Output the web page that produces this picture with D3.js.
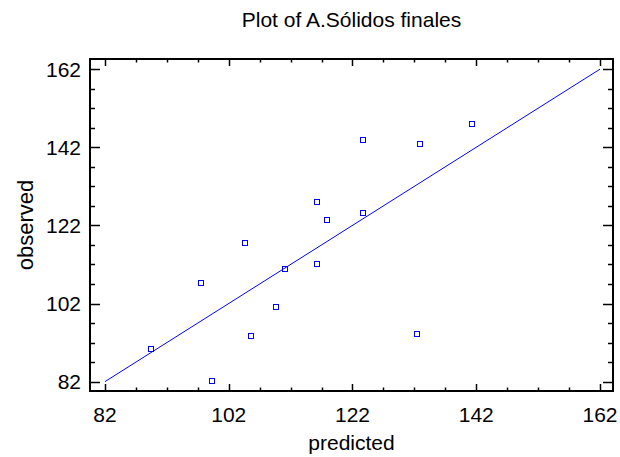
<!DOCTYPE html>
<html>
<head>
<meta charset="utf-8">
<script src="https://cdn.jsdelivr.net/npm/d3@7"></script>
<style>
  body { margin: 0; background: #fff; }
  text { font-family: "Liberation Sans", Arial, sans-serif; fill: #000; }
</style>
</head>
<body>
<div id="chart"></div>
<script>
const predicted = [89.5, 97.5, 99.3, 104.7, 105.6, 109.6, 111.1, 116.2, 116.3, 117.9, 123.7, 123.7, 132.4, 132.9, 141.3];
const observed  = [90.3, 107.3, 82.1, 117.6, 93.6, 101.2, 110.9, 127.9, 112.0, 123.4, 143.8, 125.2, 94.3, 142.9, 148.0];
const tickValues = [82, 102, 122, 142, 162];
const fitLine = [82, 162];
const titulo = "Plot of A.Sólidos finales";
const rotuloX = "predicted";
const rotuloY = "observed";

const largura = 620, altura = 457;
const caixa = { left: 90, right: 613, top: 59, bottom: 391 };

const svg = d3.select("#chart").append("svg")
  .attr("width", largura)
  .attr("height", altura);

const x = d3.scaleLinear().domain([79.58, 164.1]).range([caixa.left, caixa.right]);
const y = d3.scaleLinear().domain([79.6, 164.6]).range([caixa.bottom, caixa.top]);

const minor = d3.range(82, 163, 5).filter(v => !tickValues.includes(v));

// ticks (inward on all four sides)
function ticks(lado) {
  const g = svg.append("g").attr("stroke", "#000").attr("stroke-width", 1.5);
  const horiz = lado === "top" || lado === "bottom";
  const escala = horiz ? x : y;
  const todos = tickValues.map(v => ({ v, major: true })).concat(minor.map(v => ({ v, major: false })));
  g.selectAll("line").data(todos).enter().append("line")
    .each(function (d) {
      const len = horiz ? (d.major ? 7 : 3.5) : (d.major ? 10 : 5);
      const p = Math.round(escala(d.v)) + 0.5;
      const s = d3.select(this);
      if (lado === "bottom") s.attr("x1", p).attr("x2", p).attr("y1", caixa.bottom).attr("y2", caixa.bottom - len);
      if (lado === "top") s.attr("x1", p).attr("x2", p).attr("y1", caixa.top).attr("y2", caixa.top + len);
      if (lado === "left") s.attr("y1", p).attr("y2", p).attr("x1", caixa.left).attr("x2", caixa.left + len);
      if (lado === "right") s.attr("y1", p).attr("y2", p).attr("x1", caixa.right).attr("x2", caixa.right - len);
    });
}
["top", "bottom", "left", "right"].forEach(ticks);

svg.append("rect")
  .attr("x", caixa.left)
  .attr("y", caixa.top)
  .attr("width", caixa.right - caixa.left)
  .attr("height", caixa.bottom - caixa.top)
  .attr("fill", "none")
  .attr("stroke", "#000")
  .attr("stroke-width", 2);

// tick labels
svg.selectAll("text.xt").data(tickValues).enter().append("text")
  .attr("class", "xt")
  .attr("x", d => x(d))
  .attr("y", 422)
  .attr("text-anchor", "middle")
  .attr("font-size", "21px")
  .text(d => d);

svg.selectAll("text.yt").data(tickValues).enter().append("text")
  .attr("class", "yt")
  .attr("x", 81)
  .attr("y", d => y(d) + 7.5)
  .attr("text-anchor", "end")
  .attr("font-size", "21px")
  .text(d => d);

// regression line
svg.append("line")
  .attr("x1", x(fitLine[0])).attr("y1", y(fitLine[0]))
  .attr("x2", x(fitLine[1])).attr("y2", y(fitLine[1]))
  .attr("stroke", "#0000ff")
  .attr("stroke-width", 1);

// points
svg.selectAll("rect.pt").data(predicted).enter().append("rect")
  .attr("class", "pt")
  .attr("x", (d, i) => Math.round(x(d)) - 2.5)
  .attr("y", (d, i) => Math.round(y(observed[i])) - 2.5)
  .attr("width", 5)
  .attr("height", 5)
  .attr("fill", "none")
  .attr("stroke", "#0000ff")
  .attr("stroke-width", 1);

// titles
svg.append("text")
  .attr("x", (caixa.left + caixa.right) / 2)
  .attr("y", 27)
  .attr("text-anchor", "middle")
  .attr("font-size", "21px")
  .text(titulo);

svg.append("text")
  .attr("x", (caixa.left + caixa.right) / 2)
  .attr("y", 450)
  .attr("text-anchor", "middle")
  .attr("font-size", "21px")
  .text(rotuloX);

svg.append("text")
  .attr("transform", `translate(33,${(caixa.top + caixa.bottom) / 2}) rotate(-90)`)
  .attr("text-anchor", "middle")
  .attr("font-size", "22px")
  .text(rotuloY);
</script>
</body>
</html>
